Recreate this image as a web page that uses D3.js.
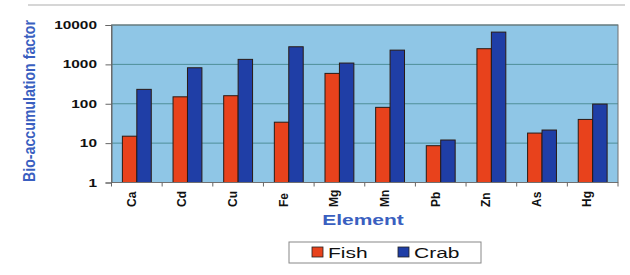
<!DOCTYPE html>
<html>
<head>
<meta charset="utf-8">
<script src="https://cdn.jsdelivr.net/npm/d3@7"></script>
<style>
html,body{margin:0;padding:0;background:#fff;}
svg{display:block;font-family:"Liberation Sans",Arial,sans-serif;}
</style>
</head>
<body>
<div id="chart"></div>
<script>
const categories = ["Ca","Cd","Cu","Fe","Mg","Mn","Pb","Zn","As","Hg"];
const seriesNames = ["Fish","Crab"];
const fishValues = [15, 150, 160, 34, 590, 81, 8.6, 2500, 18, 40];
const crabValues = [232, 820, 1340, 2800, 1080, 2300, 12, 6600, 21.5, 98];
const yTicks = [1, 10, 100, 1000, 10000];
const yTickLabels = ["1","10","100","1000","10000"];
const colors = ["#e8421c", "#1f3ea6"];

const W = 630, H = 275;
const m = {left: 111.5, right: 12, top: 25, bottom: 92.5};
const SX = 1.4; // horizontal stretch of text seen in the reference
const svg = d3.select("#chart").append("svg").attr("width", W).attr("height", H);

// faint top frame line
svg.append("line").attr("x1", 28).attr("x2", 625).attr("y1", 5).attr("y2", 5)
  .attr("stroke", "#c8c8c8").attr("stroke-width", 1.5);

const x0 = d3.scaleBand().domain(categories).range([m.left, W - m.right]).paddingInner(0.43).paddingOuter(0.215);
const x1 = d3.scaleBand().domain(seriesNames).range([0, x0.bandwidth()]);
const y = d3.scaleLog().domain([1, 10000]).range([H - m.bottom, m.top]);

const plotW = W - m.right - m.left, plotH = H - m.bottom - m.top;

svg.append("rect").attr("x", m.left).attr("y", m.top).attr("width", plotW).attr("height", plotH)
  .attr("fill", "#8fc6e6");

svg.append("g").selectAll("line").data(yTicks.slice(1)).join("line")
  .attr("x1", m.left).attr("x2", W - m.right)
  .attr("y1", d => y(d)).attr("y2", d => y(d))
  .attr("stroke", "#4f8f98").attr("stroke-width", 1);

const data = categories.map((c, i) => ({c, vals: [fishValues[i], crabValues[i]]}));
const g = svg.append("g").selectAll("g").data(data).join("g")
  .attr("transform", d => `translate(${x0(d.c)},0)`);
g.selectAll("rect").data(d => d.vals.map((v, k) => ({k, v}))).join("rect")
  .attr("x", d => x1(seriesNames[d.k]))
  .attr("width", x1.bandwidth())
  .attr("y", d => y(d.v))
  .attr("height", d => y(1) - y(d.v))
  .attr("fill", d => colors[d.k])
  .attr("stroke", "#2a1a14").attr("stroke-width", 1);

svg.append("rect").attr("x", m.left).attr("y", m.top).attr("width", plotW).attr("height", plotH)
  .attr("fill", "none").attr("stroke", "#707070").attr("stroke-width", 1);

// y axis
const yAxis = d3.axisLeft(y).tickValues(yTicks).tickFormat("").tickSize(6);
const ya = svg.append("g").attr("transform", `translate(${m.left},0)`).call(yAxis);
ya.select(".domain").attr("stroke", "#666");
ya.selectAll(".tick line").attr("stroke", "#666");
svg.append("g").selectAll("text").data(yTicks).join("text")
  .attr("transform", d => `translate(97,${y(d) + 4}) scale(${SX},1)`)
  .attr("text-anchor", "end")
  .attr("font-size", 11).attr("font-weight", "bold").attr("fill", "#111")
  .text((d, i) => yTickLabels[i]);

// x axis
const xa = svg.append("g").attr("transform", `translate(0,${H - m.bottom})`);
const boundaries = d3.range(categories.length + 1).map(i => m.left + i * plotW / categories.length);
xa.selectAll("line").data(boundaries).join("line")
  .attr("x1", d => d).attr("x2", d => d).attr("y1", 0).attr("y2", 4)
  .attr("stroke", "#666");
xa.selectAll("text").data(categories).join("text")
  .attr("transform", d => `translate(${x0(d) + x0.bandwidth() / 2 - 1.2},${24.5}) rotate(-90)`)
  .attr("text-anchor", "start")
  .attr("font-size", 12).attr("font-weight", "bold").attr("fill", "#111")
  .text(d => d);

// axis titles
svg.append("text")
  .attr("transform", `translate(35,101) rotate(-90)`)
  .attr("text-anchor", "middle")
  .attr("font-size", 16).attr("font-weight", "bold").attr("fill", "#3a5fc0")
  .attr("textLength", 162).attr("lengthAdjust", "spacingAndGlyphs")
  .text("Bio-accumulation factor");
svg.append("text")
  .attr("transform", `translate(363,225) scale(${SX},1)`)
  .attr("text-anchor", "middle")
  .attr("font-size", 15).attr("font-weight", "bold").attr("fill", "#3a5fc0")
  .text("Element");

// legend
const lg = svg.append("g");
lg.append("rect").attr("x", 289).attr("y", 242).attr("width", 192).attr("height", 21)
  .attr("fill", "#fff").attr("stroke", "#888").attr("stroke-width", 1);
const legX = [312, 398];
seriesNames.forEach((s, i) => {
  lg.append("rect").attr("x", legX[i]).attr("y", 247).attr("width", 11).attr("height", 10)
    .attr("fill", colors[i]).attr("stroke", "#222").attr("stroke-width", 0.8);
  lg.append("text").attr("transform", `translate(${legX[i] + 16},257.5) scale(${SX},1)`)
    .attr("font-size", 15).attr("fill", "#111").text(s);
});
</script>
</body>
</html>
